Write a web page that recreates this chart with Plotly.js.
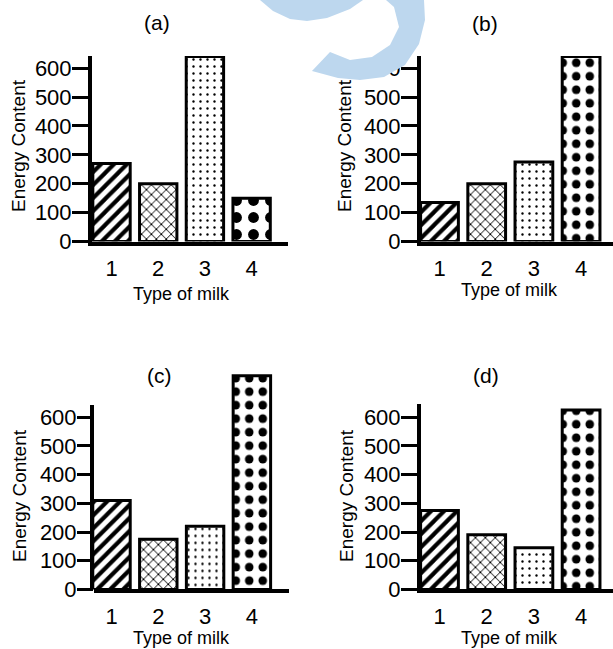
<!DOCTYPE html>
<html>
<head>
<meta charset="utf-8">
<script src="https://cdn.plot.ly/plotly-3.0.1.min.js"></script>
<style>html,body{margin:0;padding:0;background:#fff;}#chart{width:613px;height:649px;}</style>
</head>
<body>
<div id="chart"></div>
<script>
// ---- data ----
const milkTypes = [1, 2, 3, 4];
const milkLabels = ['1', '2', '3', '4'];
const energyA = [270, 200, 640, 150];
const energyB = [135, 200, 275, 640];
const energyC = [310, 175, 220, 745];
const energyD = [275, 190, 145, 625];
const yTicks = [0, 100, 200, 300, 400, 500, 600];
const panelTitles = ['(a)', '(b)', '(c)', '(d)'];
const xTitle = 'Type of milk';
const yTitle = 'Energy Content';

// ---- layout helpers ----
const W = 613, H = 649;
const px = x => x / W;
const py = y => 1 - y / H;
const FONT = 'Liberation Sans, Arial, sans-serif';

function makePattern(dotSize) {
  return {
    shape: ['/', 'x', '.', '.'],
    size: [9.2, 7, 7, dotSize],
    solidity: [0.45, 0.26, 0.09, 0.32],
    fgcolor: 'black',
    bgcolor: 'white',
    fillmode: 'replace'
  };
}

function barTrace(y, xa, ya, dotSize) {
  return {
    type: 'bar', x: milkTypes, y: y, xaxis: xa, yaxis: ya, width: 0.8,
    marker: { color: 'white', line: { color: 'black', width: 3 }, pattern: makePattern(dotSize) },
    hoverinfo: 'skip'
  };
}

const data = [
  barTrace(energyA, 'x', 'y', 17),
  barTrace(energyB, 'x2', 'y2', 13.5),
  barTrace(energyC, 'x3', 'y3', 13.5),
  barTrace(energyD, 'x4', 'y4', 13.5)
];

function xAxis(l, r, range, anchor) {
  return {
    domain: [px(l), px(r)], range: range, anchor: anchor,
    showline: true, linewidth: 4, linecolor: 'black',
    ticks: '', tickvals: milkTypes, ticktext: milkLabels,
    tickfont: { size: 22, family: FONT, color: 'black' },
    ticklabelstandoff: 4,
    showgrid: false, zeroline: false, fixedrange: true
  };
}
function yAxis(b, t, range, anchor, showline) {
  return {
    domain: [py(b), py(t)], range: range, anchor: anchor,
    showline: showline, linewidth: 4, linecolor: 'black',
    ticks: 'outside', ticklen: 16, tickwidth: 3, tickcolor: 'black',
    tickvals: yTicks, ticktext: yTicks.map(String),
    tickfont: { size: 22, family: FONT, color: 'black' },
    ticklabelstandoff: -4,
    showgrid: false, zeroline: false, fixedrange: true
  };
}

function ann(text, x, y, size, angle) {
  return {
    text: text, xref: 'paper', yref: 'paper', x: px(x), y: py(y),
    xanchor: 'center', yanchor: 'middle', showarrow: false,
    textangle: angle || 0, font: { size: size, family: FONT, color: 'black' }
  };
}

// watermark outline (pixel coords)
const wmArc = [[424,-5],[424,0],[425,20],[419,44],[405,65],[384,77],[360,80],[338,78],[312,71],[330,52],[350,60],[372,57],[390,45],[399,27],[394,7],[386,0],[385,-5]];
const wmTop = [[256,-5],[260,0],[273,11],[290,19],[307,21],[327,18],[350,9],[363,0],[367,-5]];
function pathOf(pts) {
  return pts.map((p, i) => (i ? 'L' : 'M') + px(p[0]).toFixed(5) + ',' + py(p[1]).toFixed(5)).join(' ') + ' Z';
}

const layout = {
  width: W, height: H,
  margin: { l: 0, r: 0, t: 0, b: 0 },
  paper_bgcolor: 'white', plot_bgcolor: 'white',
  showlegend: false,
  font: { family: FONT, color: 'black' },
  xaxis: xAxis(92, 288, [0.582, 4.779], 'y'),
  yaxis: yAxis(241.6, 56, [0, 642], 'x', true),
  xaxis2: xAxis(421, 613, [0.608, 4.676], 'y2'),
  yaxis2: yAxis(241.5, 56, [0, 642], 'x2', true),
  xaxis3: xAxis(94, 289, [0.626, 4.793], 'y3'),
  yaxis3: yAxis(589.4, 371.4, [0, 760], 'x3', false),
  xaxis4: xAxis(421, 613, [0.608, 4.676], 'y4'),
  yaxis4: yAxis(589.4, 404, [0, 646], 'x4', true),
  annotations: [
    ann(panelTitles[0], 157, 23, 21),
    ann(panelTitles[1], 485, 24, 21),
    ann(panelTitles[2], 159, 375, 21),
    ann(panelTitles[3], 486, 375, 21),
    ann(yTitle, 19, 146, 19, -90),
    ann(yTitle, 345, 146, 19, -90),
    ann(yTitle, 19, 496, 19, -90),
    ann(yTitle, 346, 496, 19, -90),
    ann(xTitle, 181, 294, 18),
    ann(xTitle, 509, 290, 18),
    ann(xTitle, 181, 638, 18),
    ann(xTitle, 509, 638, 18)
  ],
  shapes: [
    { type: 'line', xref: 'paper', yref: 'y3', x0: px(92), x1: px(92), y0: -15, y1: 643,
      line: { color: 'black', width: 4 }, layer: 'above' },
    { type: 'path', xref: 'paper', yref: 'paper', path: pathOf(wmArc),
      fillcolor: 'rgb(189,215,238)', line: { width: 0 }, layer: 'above' },
    { type: 'path', xref: 'paper', yref: 'paper', path: pathOf(wmTop),
      fillcolor: 'rgb(189,215,238)', line: { width: 0 }, layer: 'above' }
  ]
};

Plotly.newPlot('chart', data, layout, { staticPlot: true, displayModeBar: false });
</script>
</body>
</html>
